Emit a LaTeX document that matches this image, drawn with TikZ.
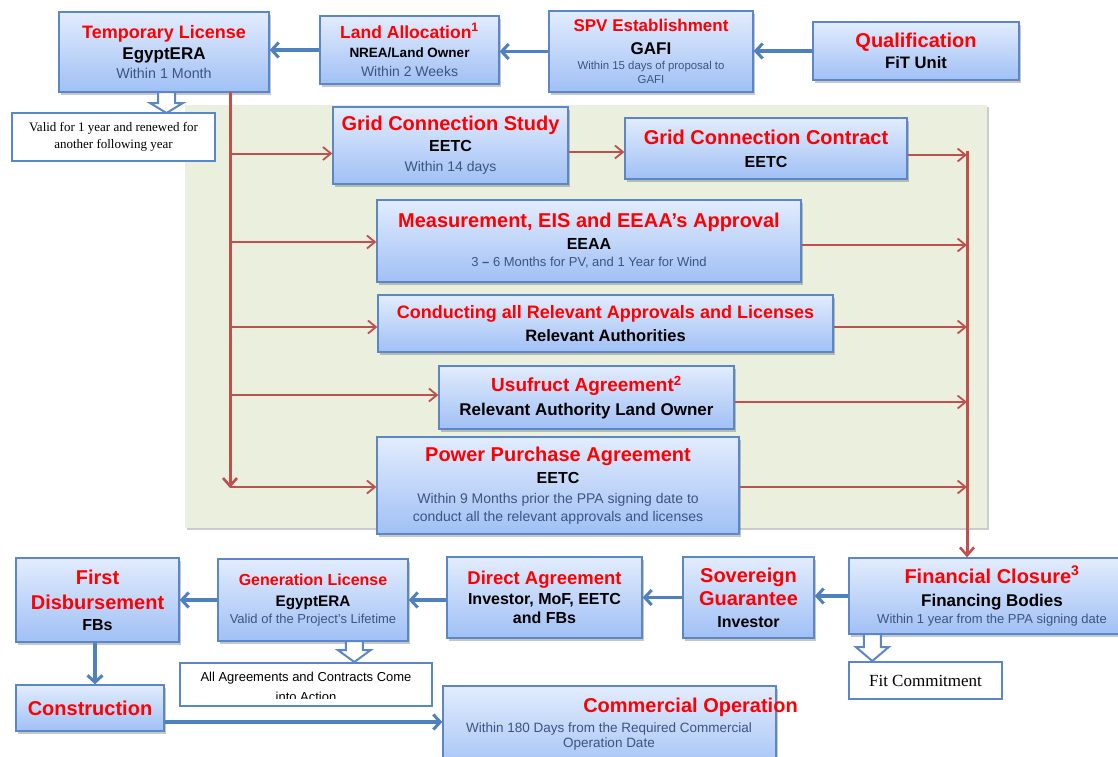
\documentclass[tikz,border=0pt]{standalone}
\usepackage{fontspec}
\setmainfont{Liberation Sans}
\newfontfamily\serifTNR{Liberation Serif}
\usetikzlibrary{arrows.meta,shadows}
\definecolor{bxborder}{RGB}{91,135,200}
\definecolor{bxtop}{RGB}{226,236,253}
\definecolor{bxbot}{RGB}{160,192,245}
\definecolor{bgreen}{RGB}{235,240,222}
\definecolor{tred}{RGB}{255,0,0}
\definecolor{tsub}{RGB}{60,84,128}
\definecolor{barr}{RGB}{79,129,189}
\definecolor{rarr}{RGB}{192,80,77}
\newcommand\txR[2]{{\fontsize{#1}{#1}\selectfont\bfseries\color{tred}#2}}
\newcommand\txB[2]{{\fontsize{#1}{#1}\selectfont\bfseries\color{black}#2}}
\newcommand\txS[2]{{\fontsize{#1}{#1}\selectfont\color{tsub}#2}}
\newcommand\hollowdown[4]{% x, ytop, yhead, ytip
  \draw[hollowst] (#1-8.5,#2) -- (#1+8.5,#2) -- (#1+8.5,#3) -- (#1+16.5,#3) -- (#1,#4) -- (#1-16.5,#3) -- (#1-8.5,#3) -- cycle;}
\tikzset{
  bx/.style={rectangle, draw=bxborder, line width=1.3pt, top color=bxtop, bottom color=bxbot,
    align=center, inner sep=0pt,
    drop shadow={shadow xshift=1.5pt, shadow yshift=-2.5pt, opacity=0.22, fill=black}},
  wbox/.style={rectangle, draw=bxborder, line width=2.4pt, fill=white, align=center, inner sep=0pt},
  wh/.style 2 args={minimum width=#1pt, minimum height=#2pt},
  barrow/.style={draw=barr, line width=3.5pt, -{Straight Barb[length=7pt,width=15pt,line width=3pt]}},
  rarrow/.style={draw=rarr, line width=2pt, -{Straight Barb[length=8pt,width=13pt,line width=1.8pt]}},
  rtrunk/.style={draw=rarr, line width=3pt, -{Straight Barb[length=8pt,width=14pt,line width=2.6pt]}},
  hollowst/.style={draw=bxborder, line width=2pt, fill=white, line join=miter},
}
\begin{document}
\begin{tikzpicture}[x=1pt,y=-1pt]
\useasboundingbox (0,0) rectangle (1118,756);
\fill[white] (0,0) rectangle (1118,756);

% green zone
\path[fill=bgreen, drop shadow={shadow xshift=2pt, shadow yshift=-2pt, opacity=0.2, fill=black}] (185,105) rectangle (987,528);

% top row
\node[bx, wh={210}{80}, font=\fontsize{14}{21}\selectfont] (tl) at (164,52)
  {\txR{18}{Temporary License}\\\txB{17}{EgyptERA}\\[-1.5pt]\txS{14.3}{Within 1 Month}};
\node[bx, wh={179}{68}, font=\fontsize{13}{19.2}\selectfont] (la) at (409.5,50)
  {\txR{17.5}{Land Allocation\textsuperscript{1}}\\\txB{13.5}{NREA/Land Owner}\\\txS{14}{Within 2 Weeks}};
\node[bx, wh={204}{81}, font=\fontsize{11.4}{14}\selectfont] (spv) at (651,51.5)
  {\txR{17}{SPV Establishment}\\[8.4pt]\txB{17}{GAFI}\\[1pt]\txS{11.4}{Within 15 days of proposal to}\\\txS{11.4}{GAFI}};
\node[bx, wh={206}{58}, font=\fontsize{16}{21.6}\selectfont] (qual) at (916,51)
  {\txR{20}{Qualification}\\\txB{16.6}{FiT Unit}};

\node[wbox, wh={203}{48}, font=\serifTNR\fontsize{13}{17}\selectfont] (valid) at (113.5,137)
  {Valid for 1 year and renewed for\\another following year};

% middle zone boxes
\node[bx, wh={235}{77}, font=\fontsize{14}{20.5}\selectfont] (gcs) at (450.5,145.5)
  {\txR{20}{Grid Connection Study}\\\txB{16}{EETC}\\\txS{14}{Within 14 days}};
\node[bx, wh={282}{61}, font=\fontsize{16}{23}\selectfont] (gcc) at (766,148.5)
  {\txR{20}{Grid Connection Contract}\\\txB{16}{EETC}};
\node[bx, wh={424}{82}, font=\fontsize{13}{17}\selectfont] (meas) at (589,241)
  {\txR{20}{Measurement, EIS and EEAA’s Approval}\\[5pt]\txB{16}{EEAA}\\\txS{13}{3 {\bfseries–} 6 Months for PV, and 1 Year for Wind}};
\node[bx, wh={455}{57}, font=\fontsize{16}{22.4}\selectfont] (cond) at (605.5,323.5)
  {\txR{18}{Conducting all Relevant Approvals and Licenses}\\\txB{16.5}{Relevant Authorities}};
\node[bx, wh={295}{63}, font=\fontsize{17}{23.3}\selectfont] (usu) at (586.5,397.5)
  {\txR{19}{Usufruct Agreement\textsuperscript{2}}\\\txB{17}{Relevant Authority Land Owner}};
\node[bx, wh={362}{97}, font=\fontsize{14}{17.7}\selectfont] (ppa) at (558,485.5)
  {\txR{20}{Power Purchase Agreement}\\[4pt]\txB{16}{EETC}\\[2.3pt]\txS{14}{Within 9 Months prior the PPA signing date to}\\\txS{14}{conduct all the relevant approvals and licenses}};

% bottom row
\node[bx, wh={286}{76}, font=\fontsize{13}{17.3}\selectfont] (fc) at (992,596)
  {\txR{20}{Financial Closure\textsuperscript{3}}\\[5.4pt]\txB{17}{Financing Bodies}\\\txS{13}{Within 1 year from the PPA signing date}};
\node[bx, wh={131}{81}, font=\fontsize{16}{23}\selectfont] (sg) at (748.5,597.5)
  {\txR{20}{Sovereign}\\\txR{20}{Guarantee}\\[-1pt]\txB{16}{Investor}};
\node[bx, wh={195}{81}, font=\fontsize{16}{19.5}\selectfont] (da) at (544.5,597.5)
  {\txR{18.5}{Direct Agreement}\\\txB{16}{Investor, MoF, EETC}\\\txB{16}{and FBs}};
\node[bx, wh={190}{82}, font=\fontsize{13}{16.7}\selectfont] (gl) at (313,600)
  {\txR{16}{Generation License}\\[4.9pt]\txB{15.3}{EgyptERA}\\\txS{13}{Valid of the Project’s Lifetime}};
\node[bx, wh={163}{84}, font=\fontsize{16}{23}\selectfont] (fd) at (97.5,600)
  {\txR{20}{First}\\[2pt]\txR{20}{Disbursement}\\[-2pt]\txB{16}{FBs}};
\node[bx, wh={148}{46}, font=\fontsize{20}{24}\selectfont] (cons) at (90,708)
  {\txR{20}{Construction}};
\node[bx, wh={333}{90}] (co) at (609.5,731) {};
\node[anchor=base, font=\fontsize{20}{24}\selectfont] (cotitle) at (690.5,712) {\txR{20}{Commercial Operation}};
\node[anchor=base] (cosub1) at (609,732) {\txS{13.5}{Within 180 Days from the Required Commercial}};
\node[anchor=base] (cosub2) at (609,747) {\txS{13.5}{Operation Date}};

\node[wbox, wh={252}{43}, path picture={
    \clip ([yshift=8pt]path picture bounding box.south west) rectangle (path picture bounding box.north east);
    \node[anchor=base] (allag1) at ([yshift=-18.7pt]path picture bounding box.north) {\fontsize{13}{13}\selectfont All Agreements and Contracts Come};
    \node[anchor=base] (allag2) at ([yshift=-38pt]path picture bounding box.north) {\fontsize{13}{13}\selectfont into Action};
  }] (allag) at (306,684.5) {};
\node[wbox, wh={153}{37}, font=\serifTNR\fontsize{17}{20}\selectfont] (fitc) at (925.5,680.5) {Fit Commitment};

% hollow arrows
\hollowdown{166.5}{92}{103}{113}
\hollowdown{354.3}{641}{650}{662}
\hollowdown{872.3}{634}{647}{661}

% blue arrows
\draw[barrow] (qual.west) -- (qual.west -| spv.east);
\draw[barrow] (spv.west) -- (spv.west -| la.east);
\draw[barrow] (la.west) -- (la.west -| tl.east);
\draw[barrow] (fc.west) -- (fc.west -| sg.east);
\draw[barrow] (sg.west) -- (sg.west -| da.east);
\draw[barrow] (da.west |- gl.east) -- (gl.east);
\draw[barrow] (gl.west) -- (gl.west -| fd.east);
\draw[barrow] ([xshift=-2.5pt]fd.south) -- ([xshift=-2.5pt]fd.south |- cons.north);
\draw[barrow] ([yshift=-14pt]cons.east) -- ([yshift=-14pt]cons.east -| co.west);

% red trunk lines
\coordinate (lTop) at (230,92);
\coordinate (lBot) at (230,488);
\coordinate (rTop) at (967,151);
\draw[rtrunk] (lTop) -- (lBot);
\draw[rtrunk] (rTop) -- (rTop |- fc.north);

% red branch arrows in
\draw[rarrow] ([yshift=-8pt]gcs.west -| lTop) -- ([yshift=-8pt]gcs.west);
\draw[rarrow] ([yshift=-1pt]meas.west -| lTop) -- ([yshift=-1pt]meas.west);
\draw[rarrow] ([yshift=-3.5pt]cond.west -| lTop) -- ([yshift=-3.5pt]cond.west);
\draw[rarrow] ([yshift=2.5pt]usu.west -| lTop) -- ([yshift=2.5pt]usu.west);
\draw[rarrow] ([yshift=-1.5pt]ppa.west -| lTop) -- ([yshift=-1.5pt]ppa.west);
\draw[rarrow] ([yshift=-6.5pt]gcs.east) -- ([yshift=-3.5pt]gcc.west);

% red branch arrows out
\draw[rarrow] ([yshift=-6.5pt]gcc.east) -- ([yshift=-6.5pt]gcc.east -| rTop);
\draw[rarrow] ([yshift=-4pt]meas.east) -- ([yshift=-4pt]meas.east -| rTop);
\draw[rarrow] ([yshift=-3.5pt]cond.east) -- ([yshift=-3.5pt]cond.east -| rTop);
\draw[rarrow] ([yshift=-4.5pt]usu.east) -- ([yshift=-4.5pt]usu.east -| rTop);
\draw[rarrow] ([yshift=-1.5pt]ppa.east) -- ([yshift=-1.5pt]ppa.east -| rTop);
\end{tikzpicture}
\end{document}
